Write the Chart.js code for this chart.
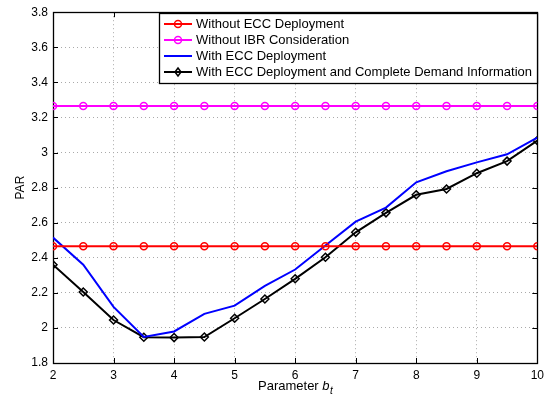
<!DOCTYPE html>
<html><head><meta charset="utf-8">
<script src="https://cdn.jsdelivr.net/npm/chart.js@4.4.0/dist/chart.umd.min.js"></script>
<style>html,body{margin:0;padding:0;background:#fff}#wrap{width:549px;height:400px}</style>
</head><body><div id="wrap"><canvas id="c" width="549" height="400"></canvas></div>
<script>
const xValues = [2,2.5,3,3.5,4,4.5,5,5.5,6,6.5,7,7.5,8,8.5,9,9.5,10];
const withoutECC = [2.465,2.465,2.465,2.465,2.465,2.465,2.465,2.465,2.465,2.465,2.465,2.465,2.465,2.465,2.465,2.465,2.465];
const withoutIBR = [3.265,3.265,3.265,3.265,3.265,3.265,3.265,3.265,3.265,3.265,3.265,3.265,3.265,3.265,3.265,3.265,3.265];
const withECC = [2.515,2.36,2.12,1.948,1.98,2.08,2.127,2.24,2.333,2.47,2.606,2.686,2.83,2.893,2.944,2.99,3.085];
const withECCComplete = [2.36,2.205,2.045,1.947,1.945,1.948,2.055,2.165,2.28,2.403,2.545,2.656,2.759,2.792,2.882,2.951,3.068];
const seriesNames = ["Without ECC Deployment","Without IBR Consideration","With ECC Deployment","With ECC Deployment and Complete Demand Information"];
const xTicks = [2,3,4,5,6,7,8,9,10];
const yTicks = [1.8,2,2.2,2.4,2.6,2.8,3,3.2,3.4,3.6,3.8];

const FONT = "'Liberation Sans', Arial, Helvetica, sans-serif";
const pts = arr => arr.map((v,i)=>({x:xValues[i], y:v}));

const plotLeft = 53, plotRight = 540, plotTop = 8, plotBottom = 363;

const frame = {
  id:'frame',
  beforeDatasetsDraw(chart){
    const {ctx, chartArea:a, scales:{x,y}} = chart;
    ctx.save();
    ctx.strokeStyle='#000'; ctx.lineWidth=1;
    const tl=5;
    ctx.beginPath();
    xTicks.forEach(v=>{const px=Math.round(x.getPixelForValue(v))+0.5;
      ctx.moveTo(px,a.bottom); ctx.lineTo(px,a.bottom-tl);
      ctx.moveTo(px,a.top); ctx.lineTo(px,a.top+tl);});
    yTicks.forEach(v=>{const py=Math.round(y.getPixelForValue(v))+0.5;
      ctx.moveTo(a.left,py); ctx.lineTo(a.left+tl,py);
      ctx.moveTo(a.right,py); ctx.lineTo(a.right-tl,py);});
    ctx.stroke();
    ctx.lineWidth=1.3;
    ctx.strokeRect(Math.round(a.left)+0.5, Math.round(a.top)+0.5, Math.round(a.right-a.left), Math.round(a.bottom-a.top));
    ctx.restore();
  },
  afterDraw(chart){
    const {ctx, chartArea:a} = chart;
    ctx.save();
    // x-axis title: Parameter b_t
    ctx.fillStyle='#000'; ctx.textBaseline='alphabetic';
    const t1='Parameter ';
    ctx.font='13px '+FONT; const w1=ctx.measureText(t1).width;
    ctx.font='italic 13px '+FONT; const w2=ctx.measureText('b').width;
    ctx.font='italic 10px '+FONT; const w3=ctx.measureText('t').width;
    const total=w1+w2+w3; const cx=(a.left+a.right)/2; let sx=cx-total/2; const by=390;
    ctx.font='13px '+FONT; ctx.fillText(t1,sx,by); sx+=w1;
    ctx.font='italic 13px '+FONT; ctx.fillText('b',sx,by); sx+=w2;
    ctx.font='italic 10px '+FONT; ctx.fillText('t',sx+0.5,by+4);
    // y title
    ctx.save(); ctx.translate(21,(a.top+a.bottom)/2); ctx.rotate(-Math.PI/2);
    ctx.font='12px '+FONT; ctx.textAlign='center'; ctx.textBaseline='middle'; ctx.fillText('PAR',0,0); ctx.restore();
    // legend
    const lx=159, ly=13, lw=378, lh=70;
    ctx.fillStyle='#fff'; ctx.fillRect(lx,ly,lw,lh);
    ctx.strokeStyle='#000'; ctx.lineWidth=1.3; ctx.strokeRect(lx+0.5,ly+0.5,lw,lh);
    const rows=[24,40,56,72];
    chart.data.datasets.forEach((ds,i)=>{
      const ry=rows[i];
      ctx.strokeStyle=ds.borderColor; ctx.lineWidth=ds.borderWidth;
      ctx.beginPath(); ctx.moveTo(164,ry); ctx.lineTo(192,ry); ctx.stroke();
      if(ds.pointRadius>0){
        ctx.lineWidth=ds.pointBorderWidth; ctx.strokeStyle=ds.pointBorderColor; ctx.fillStyle=ds.pointBackgroundColor;
        const r=ds.pointRadius;
        ctx.beginPath();
        if(ds.pointStyle==='rectRot'){ctx.moveTo(178,ry-r);ctx.lineTo(178+r*0.75,ry);ctx.lineTo(178,ry+r);ctx.lineTo(178-r*0.75,ry);ctx.closePath();}
        else ctx.arc(178,ry,r,0,Math.PI*2);
        ctx.fill(); ctx.stroke();
      }
      ctx.fillStyle='#000'; ctx.font='13px '+FONT; ctx.textBaseline='middle';
      ctx.fillText(seriesNames[i],196,ry+0.5);
    });
    ctx.restore();
  }
};

new Chart(document.getElementById('c'),{
  type:'line',
  data:{datasets:[
    {label:seriesNames[0],data:pts(withoutECC),borderColor:'#ff0000',borderWidth:2,pointStyle:'circle',pointRadius:3.5,pointBorderWidth:1.5,pointBorderColor:'#ff0000',pointBackgroundColor:'rgba(255,255,255,0)'},
    {label:seriesNames[1],data:pts(withoutIBR),borderColor:'#ff00ff',borderWidth:2,pointStyle:'circle',pointRadius:3.5,pointBorderWidth:1.5,pointBorderColor:'#ff00ff',pointBackgroundColor:'rgba(255,255,255,0)'},
    {label:seriesNames[2],data:pts(withECC),borderColor:'#0000ff',borderWidth:2,pointRadius:0},
    {label:seriesNames[3],data:pts(withECCComplete),borderColor:'#000000',borderWidth:2,pointStyle:'rectRot',pointRadius:4,pointBorderWidth:1.5,pointBorderColor:'#000',pointBackgroundColor:'rgba(255,255,255,0)'}
  ]},
  options:{
    responsive:false, animation:false, devicePixelRatio:1,
    layout:{padding:{left:0,right:549-plotRight,top:plotTop,bottom:0}},
    plugins:{legend:{display:false},tooltip:{enabled:false}},
    elements:{line:{tension:0}},
    scales:{
      x:{type:'linear',min:2,max:10,
        afterBuildTicks(s){s.ticks=xTicks.map(v=>({value:v}));},
        afterFit(s){s.height=400-plotBottom;},
        ticks:{color:'#000',font:{family:FONT,size:12},padding:5,maxRotation:0,autoSkip:false,callback:v=>String(v)},
        grid:{color:'#aaa',lineWidth:1,drawTicks:false,tickLength:0},
        border:{display:false,dash:[1,3]}
      },
      y:{type:'linear',min:1.8,max:3.8,
        afterBuildTicks(s){s.ticks=yTicks.map(v=>({value:v}));},
        afterFit(s){s.width=plotLeft;},
        ticks:{color:'#000',font:{family:FONT,size:12},padding:5,autoSkip:false,callback:v=>String(Number(v.toFixed(1)))},
        grid:{color:'#aaa',lineWidth:1,drawTicks:false,tickLength:0},
        border:{display:false,dash:[1,3]}
      }
    }
  },
  plugins:[frame]
});
</script></body></html>
